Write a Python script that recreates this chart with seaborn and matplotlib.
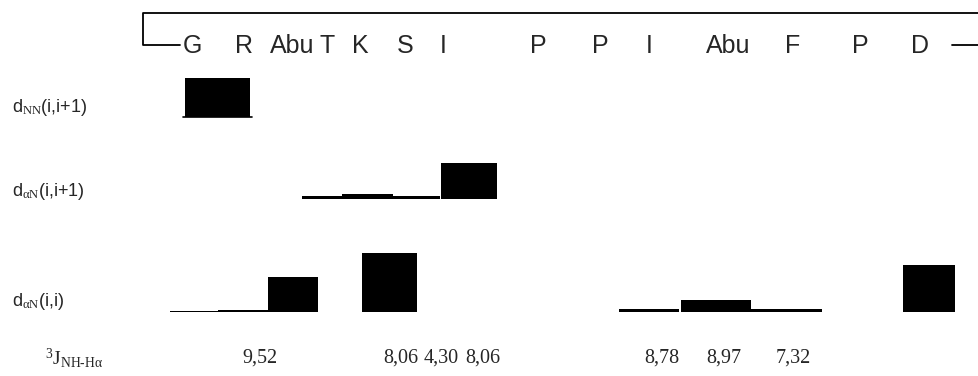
import matplotlib
matplotlib.use("Agg")
import pandas as pd
import matplotlib.pyplot as plt
import seaborn as sns

# sequence along the top
residues = ["G", "R", "Abu", "T", "K", "S", "I", "P", "P", "I", "Abu", "F", "P", "D"]
residue_pos = [192, 244, 292, 327, 360, 405, 443, 538, 600, 649, 728, 793, 860, 920]

# NOE bars: start, end, intensity (bar height)
nn_start = [185]
nn_end = [250]
nn_height = [39]

an1_start = [302, 342, 393, 441]
an1_end = [342, 393, 440, 497]
an1_height = [3, 5, 3, 36]

an0_start = [170, 218, 268, 362, 619, 681, 751, 903]
an0_end = [218, 268, 318, 417, 679, 751, 822, 955]
an0_height = [1, 2, 35, 59, 3, 12, 3, 47]

# 3J coupling constants
j_values = ["9,52", "8,06", "4,30", "8,06", "8,78", "8,97", "7,32"]
j_pos = [260, 401, 441, 483, 662, 724, 793]

row_names = ["dNN", "daN1", "daN0"]
row_labels = [r"d$_{\mathrm{NN}}$(i,i+1)", r"d$_{\mathrm{αN}}$(i,i+1)", r"d$_{\mathrm{αN}}$(i,i)"]
row_base = [117, 199, 312]
row_label_y = [108, 191, 302]

bars = pd.concat([
    pd.DataFrame({"row": "dNN", "start": nn_start, "end": nn_end, "h": nn_height}),
    pd.DataFrame({"row": "daN1", "start": an1_start, "end": an1_end, "h": an1_height}),
    pd.DataFrame({"row": "daN0", "start": an0_start, "end": an0_end, "h": an0_height}),
], ignore_index=True)

sns.set_theme(style="white")
plt.rcParams.update({
    "mathtext.fontset": "custom",
    "mathtext.rm": "Liberation Serif",
    "mathtext.it": "Liberation Serif:italic",
})

fig = plt.figure(figsize=(9.79, 3.76), dpi=100)
ax = fig.add_axes([0, 0, 1, 1])
ax.set_xlim(0, 979)
ax.set_ylim(376, 0)
ax.axis("off")

for name, base in zip(row_names, row_base):
    sub = bars[bars["row"] == name]
    ax.bar(sub["start"], sub["h"], width=sub["end"] - sub["start"],
           bottom=base - sub["h"], align="edge", color="black", linewidth=0)

# thin base line under the dNN box
ax.plot([183, 252], [117, 117], color="black", linewidth=1.2)

for lab, y in zip(row_labels, row_label_y):
    ax.text(12, y, lab, fontsize=13, family="Liberation Sans", va="center", ha="left")

ax.text(45, 358, r"$^{3}$J$_{\mathrm{NH‐Hα}}$", fontsize=14, family="Liberation Serif",
        va="center", ha="left")
for v, x in zip(j_values, j_pos):
    ax.text(x, 358, v, fontsize=14.5, family="Liberation Serif", va="center", ha="center")

# bracket and residue names
ax.plot([979, 143, 143, 180], [13, 13, 45, 45], color="black", linewidth=1.3)
ax.plot([952, 979], [45, 45], color="black", linewidth=1.3)
for r, x in zip(residues, residue_pos):
    ax.text(x, 46, r, fontsize=18, family="Liberation Sans", va="center", ha="center")

fig.savefig("out.png", dpi=100)
